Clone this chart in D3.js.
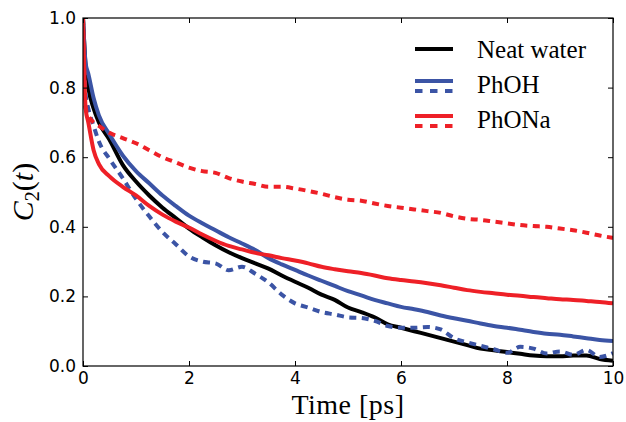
<!DOCTYPE html>
<html>
<head>
<meta charset="utf-8">
<script src="https://cdn.jsdelivr.net/npm/d3@7"></script>
<style>
  html, body { margin: 0; padding: 0; background: #fff; }
  svg { display: block; }
</style>
</head>
<body>
<svg id="chart" width="626" height="422"></svg>
<script>
// ---- data ----
const times = [0, 0.05, 0.1, 0.2, 0.3, 0.5, 0.75, 1, 1.25, 1.5, 1.75, 2, 2.25, 2.5, 2.75, 3, 3.25, 3.5, 3.75, 4, 4.25, 4.5, 4.75, 5, 5.25, 5.5, 5.75, 6, 6.25, 6.5, 6.75, 7, 7.25, 7.5, 7.75, 8, 8.25, 8.5, 8.75, 9, 9.25, 9.5, 9.75, 10];
const neatWater = [1.0, 0.86, 0.80, 0.74, 0.70, 0.65, 0.578, 0.53, 0.49, 0.455, 0.425, 0.395, 0.37, 0.347, 0.327, 0.31, 0.295, 0.28, 0.26, 0.242, 0.225, 0.205, 0.19, 0.168, 0.155, 0.14, 0.12, 0.11, 0.10, 0.09, 0.08, 0.07, 0.06, 0.05, 0.045, 0.04, 0.035, 0.03, 0.028, 0.028, 0.03, 0.03, 0.02, 0.015];
const phohSolid = [1.0, 0.87, 0.84, 0.77, 0.72, 0.665, 0.605, 0.56, 0.525, 0.49, 0.46, 0.432, 0.41, 0.39, 0.37, 0.352, 0.333, 0.31, 0.292, 0.276, 0.26, 0.245, 0.23, 0.215, 0.203, 0.19, 0.18, 0.17, 0.163, 0.155, 0.145, 0.137, 0.13, 0.122, 0.115, 0.11, 0.104, 0.098, 0.093, 0.09, 0.085, 0.08, 0.075, 0.072];
const phohDotted = [1.0, 0.78, 0.74, 0.69, 0.645, 0.595, 0.54, 0.48, 0.43, 0.385, 0.35, 0.315, 0.30, 0.295, 0.275, 0.285, 0.265, 0.24, 0.205, 0.18, 0.168, 0.155, 0.148, 0.14, 0.138, 0.13, 0.115, 0.11, 0.11, 0.112, 0.105, 0.08, 0.068, 0.058, 0.048, 0.038, 0.055, 0.05, 0.036, 0.042, 0.032, 0.046, 0.026, 0.037];
const phonaSolid = [1.0, 0.74, 0.70, 0.62, 0.58, 0.545, 0.515, 0.49, 0.46, 0.435, 0.415, 0.398, 0.378, 0.36, 0.345, 0.335, 0.325, 0.318, 0.31, 0.303, 0.295, 0.285, 0.278, 0.272, 0.267, 0.26, 0.252, 0.247, 0.243, 0.238, 0.232, 0.225, 0.218, 0.213, 0.209, 0.205, 0.202, 0.198, 0.195, 0.192, 0.19, 0.187, 0.184, 0.18];
const phonaDotted = [1.0, 0.74, 0.72, 0.70, 0.69, 0.67, 0.655, 0.64, 0.62, 0.60, 0.585, 0.57, 0.56, 0.555, 0.54, 0.53, 0.523, 0.515, 0.515, 0.51, 0.503, 0.495, 0.485, 0.478, 0.475, 0.467, 0.46, 0.455, 0.45, 0.445, 0.44, 0.43, 0.423, 0.42, 0.415, 0.41, 0.405, 0.402, 0.40, 0.395, 0.39, 0.383, 0.375, 0.368];

const xTicks = [0, 2, 4, 6, 8, 10];
const yTicks = [0.0, 0.2, 0.4, 0.6, 0.8, 1.0];
const legendLabels = ["Neat water", "PhOH", "PhONa"];

// ---- layout ----
const margin = { left: 83, top: 18, right: 13, bottom: 56 };
const W = 626, H = 422;
const iw = W - margin.left - margin.right;  // 530
const ih = H - margin.top - margin.bottom;  // 348

const BLACK = "#000000", BLUE = "#3b54a5", RED = "#ee2027";

const svg = d3.select("#chart");
const g = svg.append("g").attr("transform", `translate(${margin.left},${margin.top})`);

const x = d3.scaleLinear().domain([0, 10]).range([0, iw]);
const y = d3.scaleLinear().domain([0, 1]).range([ih, 0]);

g.append("clipPath").attr("id", "clip")
  .append("rect").attr("x", 0).attr("y", -2).attr("width", iw).attr("height", ih + 2);

const line = d3.line()
  .x((d, i) => x(times[i]))
  .y(d => y(d))
  .curve(d3.curveMonotoneX);

const series = [
  { values: neatWater, color: BLACK, dash: null },
  { values: phohSolid, color: BLUE, dash: null },
  { values: phohDotted, color: BLUE, dash: "7,5.5" },
  { values: phonaSolid, color: RED, dash: null },
  { values: phonaDotted, color: RED, dash: "7,5.5" }
];

const lines = g.append("g").attr("clip-path", "url(#clip)");
series.forEach(s => {
  lines.append("path")
    .datum(s.values)
    .attr("d", line)
    .attr("fill", "none")
    .attr("stroke", s.color)
    .attr("stroke-width", 4)
    .attr("stroke-dasharray", s.dash)
    .attr("stroke-linejoin", "round");
});

// ---- axes (ticks inside, on all sides) ----
const tickFont = "'DejaVu Sans', sans-serif";
const styleAxis = sel => {
  sel.select(".domain").remove();
  sel.selectAll(".tick line").attr("stroke", "#000").attr("stroke-width", 1);
  sel.selectAll(".tick text").attr("font-family", tickFont).attr("font-size", 17).attr("fill", "#000");
};

g.append("g").attr("transform", `translate(0,${ih})`)
  .call(d3.axisBottom(x).tickValues(xTicks).tickFormat(d3.format("d")).tickSizeInner(-5).tickPadding(6))
  .call(styleAxis);
g.append("g")
  .call(d3.axisTop(x).tickValues(xTicks).tickFormat("").tickSizeInner(-5))
  .call(styleAxis);
g.append("g")
  .call(d3.axisLeft(y).tickValues(yTicks).tickFormat(d3.format(".1f")).tickSizeInner(-5).tickPadding(7))
  .call(styleAxis);
g.append("g").attr("transform", `translate(${iw},0)`)
  .call(d3.axisRight(y).tickValues(yTicks).tickFormat("").tickSizeInner(-5))
  .call(styleAxis);

// frame
g.append("rect").attr("x", 0).attr("y", 0).attr("width", iw).attr("height", ih)
  .attr("fill", "none").attr("stroke", "#000").attr("stroke-width", 1.2);

// ---- axis labels ----
const serif = "'Liberation Serif', 'Times New Roman', serif";
svg.append("text")
  .attr("x", margin.left + iw / 2).attr("y", 414)
  .attr("text-anchor", "middle")
  .attr("font-family", serif).attr("font-size", 28)
  .attr("letter-spacing", 0.5)
  .text("Time [ps]");

const yl = svg.append("text")
  .attr("transform", `translate(33,${margin.top + ih / 2}) rotate(-90)`)
  .attr("text-anchor", "middle")
  .attr("font-family", serif).attr("font-size", 30);
yl.append("tspan").attr("font-style", "italic").text("C");
yl.append("tspan").attr("font-size", 20).attr("dy", 6).text("2");
yl.append("tspan").attr("dy", -6).text("(");
yl.append("tspan").attr("font-style", "italic").text("t");
yl.append("tspan").text(")");

// ---- legend ----
const legend = svg.append("g");
const lx0 = 415, lx1 = 453, tx = 477;
const legendRows = [
  { label: legendLabels[0], color: BLACK, solidY: 49, dotY: null, textY: 58 },
  { label: legendLabels[1], color: BLUE, solidY: 81, dotY: 91, textY: 93 },
  { label: legendLabels[2], color: RED, solidY: 116, dotY: 126, textY: 128 }
];
legendRows.forEach(r => {
  legend.append("line").attr("x1", lx0).attr("x2", lx1).attr("y1", r.solidY).attr("y2", r.solidY)
    .attr("stroke", r.color).attr("stroke-width", 4);
  if (r.dotY !== null) {
    legend.append("line").attr("x1", lx0).attr("x2", lx1).attr("y1", r.dotY).attr("y2", r.dotY)
      .attr("stroke", r.color).attr("stroke-width", 4).attr("stroke-dasharray", "7.5,7.5");
  }
  legend.append("text").attr("x", tx).attr("y", r.textY)
    .attr("font-family", serif).attr("font-size", 25).attr("fill", "#000")
    .text(r.label);
});
</script>
</body>
</html>
